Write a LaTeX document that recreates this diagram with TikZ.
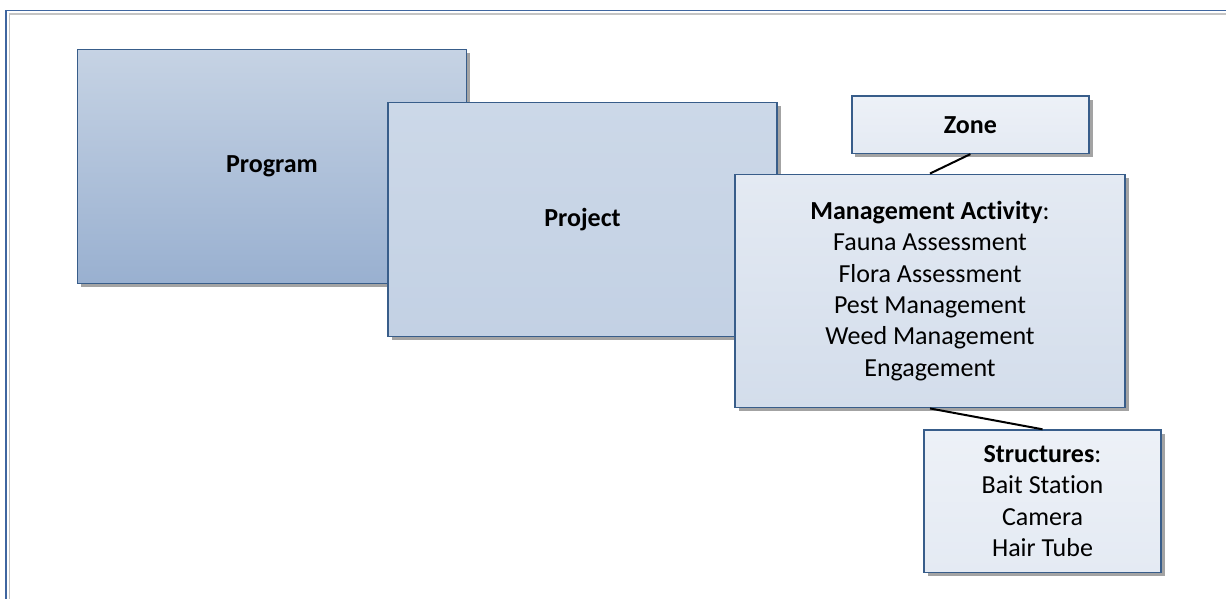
\documentclass[tikz,border=0pt]{standalone}
\usepackage{fontspec}
\setmainfont{Carlito}[Ligatures=NoCommon]
\usetikzlibrary{shadows}
\definecolor{boxline}{HTML}{385D8A}
\definecolor{frameblue}{HTML}{3F66A0}
\definecolor{framegray}{HTML}{C4C4C4}
\definecolor{shadowgray}{HTML}{A3A3A3}
\definecolor{progtop}{HTML}{C6D3E4}
\definecolor{progbot}{HTML}{99B0D0}
\definecolor{projtop}{HTML}{CCD8E8}
\definecolor{projbot}{HTML}{C3D1E4}
\definecolor{matop}{HTML}{E4EAF3}
\definecolor{mabot}{HTML}{D3DDEB}
\definecolor{lighttop}{HTML}{EDF1F7}
\definecolor{lightbot}{HTML}{E4EAF3}
\tikzset{
  card/.style={draw=boxline, line width=1.5pt, rectangle, inner sep=0pt,
    align=center, shading=axis, shading angle=0,
    drop shadow={shadow xshift=3.5pt, shadow yshift=-3.5pt, fill=shadowgray, opacity=1},
    font=\fontsize{26}{31.3}\selectfont},
  link/.style={draw=black, line width=2pt}
}
\begin{document}
\begin{tikzpicture}[x=1pt,y=-1pt]
\useasboundingbox (0,0) rectangle (1226,599);
% outer frame
\draw[framegray, line width=1.6pt] (9.3,600) -- (9.3,14.3) -- (1227,14.3);
\draw[frameblue, line width=1.6pt] (5.7,600) -- (5.7,10.7) -- (1227,10.7);
% boxes
\node[card, top color=progtop, bottom color=progbot, minimum width=389pt, minimum height=234pt]
  (prog) at (272,166.3) {\textbf{Program}};
\node[card, top color=projtop, bottom color=projbot, minimum width=389pt, minimum height=234pt]
  (proj) at (582.5,219.7) {\textbf{Project}};
\node[card, top color=lighttop, bottom color=lightbot, minimum width=237.3pt, minimum height=57.3pt]
  (zone) at (970.4,124.7) {\textbf{Zone}};
\node[card, top color=matop, bottom color=mabot, minimum width=390pt, minimum height=233.4pt]
  (ma) at (930,291) {\textbf{Management Activity}:\\Fauna Assessment\\Flora Assessment\\Pest Management\\Weed Management\\Engagement};
\node[card, top color=lighttop, bottom color=lightbot, minimum width=237pt, minimum height=142.3pt]
  (struct) at (1042.5,501.2) {\textbf{Structures}:\\Bait Station\\Camera\\Hair Tube};
% connectors
\draw[link] (zone.south) -- (ma.north);
\draw[link] (ma.south) -- (struct.north);
\end{tikzpicture}
\end{document}
